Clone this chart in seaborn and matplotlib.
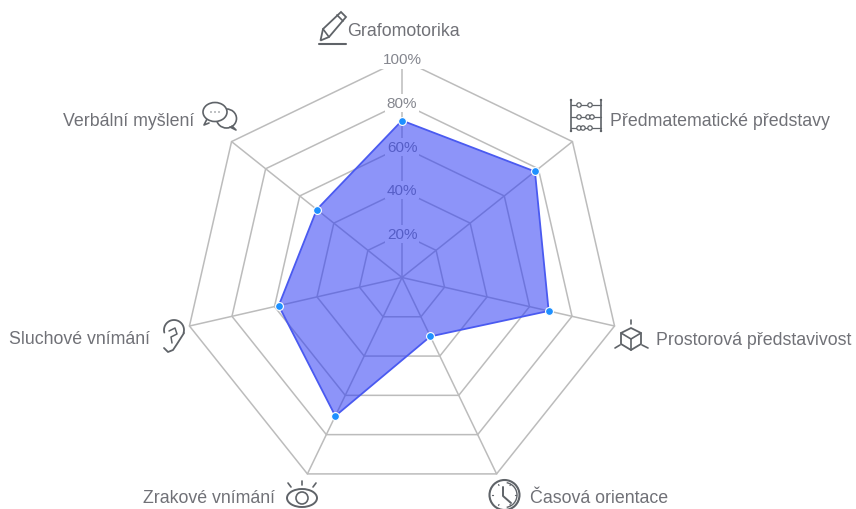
import numpy as np
import pandas as pd
import matplotlib.pyplot as plt
import seaborn as sns
from matplotlib.patches import Arc, Circle, Ellipse, Polygon

categories = ["Grafomotorika", "Předmatematické představy", "Prostorová představivost",
              "Časová orientace", "Zrakové vnímání", "Sluchové vnímání", "Verbální myšlení"]
values = [72, 78, 69, 30, 70.5, 58, 50]
grid_levels = [20, 40, 60, 80, 100]

GREY = "#707177"
ICON = "#5f6368"
GRID = "#bcbcbc"

sns.set_theme(style="white")
plt.rcParams["font.family"] = ["Liberation Sans", "DejaVu Sans"]

W, H = 856, 510
cx, cy, R = 402, 278.5, 218

fig = plt.figure(figsize=(W / 100, H / 100), dpi=100)
ax = fig.add_axes([(cx - R) / W, (H - cy - R) / H, 2 * R / W, 2 * R / H], projection="polar")
ax.set_theta_zero_location("N")
ax.set_theta_direction(-1)
ax.axis("off")

theta = np.linspace(0, 2 * np.pi, len(categories), endpoint=False)
closed = np.append(theta, theta[0])

# grid rings and spokes
for level in grid_levels:
    ax.plot(closed, [level] * len(closed), color=GRID, lw=1.1, zorder=1, clip_on=False)
for t in theta:
    ax.plot([t, t], [0, 100], color=GRID, lw=1.1, zorder=1, clip_on=False)

# labels sit under the area, with a white patch that breaks the grid
for level in grid_levels:
    ax.text(0, level, f"{level}%", ha="center", va="center", fontsize=11, color="#85878f", zorder=2,
            clip_on=False, bbox=dict(facecolor="white", edgecolor="none", pad=1.5))

df = pd.DataFrame({"theta": closed, "value": values + values[:1]})
ax.fill(df["theta"], df["value"], color="#2f3cf5", alpha=0.55, lw=0, zorder=3)
sns.lineplot(data=df, x="theta", y="value", sort=False, estimator=None, color="#4a5af0", lw=1.3,
             ax=ax, zorder=4, legend=False)
sns.scatterplot(data=df.iloc[:-1], x="theta", y="value", color="#1e90ff", s=32, edgecolor="white",
                linewidth=0.8, ax=ax, zorder=5, legend=False, clip_on=False)
ax.set_ylim(0, 100)
ax.set_xlabel("")
ax.set_ylabel("")

# overlay in pixel coordinates for the axis names and their icons
ov = fig.add_axes([0, 0, 1, 1], facecolor="none")
ov.set_xlim(0, W)
ov.set_ylim(H, 0)
ov.axis("off")

label_pos = [(347, 32, "left"), (610, 121, "left"), (656, 341, "left"), (530, 499, "left"),
             (275, 499, "right"), (150, 340, "right"), (194, 122, "right")]
for name, (x, y, ha) in zip(categories, label_pos):
    ov.text(x, y, name, ha=ha, va="center", fontsize=12.8, color=GREY)


def line(xs, ys, lw=1.2):
    ov.plot(xs, ys, color=ICON, lw=lw, solid_capstyle="round")


def ring(x, y, r, lw=1.2):
    ov.add_patch(Circle((x, y), r, fill=False, ec=ICON, lw=lw))


# pencil
ov.add_patch(Polygon([(320.5, 41.5), (323, 30), (341, 13), (346, 18), (329, 38)], fill=False, ec=ICON, lw=1.3))
line([337, 343], [16, 22])
line([323, 329], [30, 38])
line([319, 346], [44.5, 44.5], 1.5)

# abacus
line([571, 571], [101, 132])
line([601, 601], [101, 132])
for x in [571, 601]:
    for y in [101, 132]:
        ov.add_patch(Circle((x, y), 1.2, fc=ICON, ec="none"))
for y, xs in [(106, [579, 590]), (118, [579, 588, 592]), (129, [579, 583, 590])]:
    line([571, 601], [y, y], 0.9)
    for x in xs:
        ov.add_patch(Circle((x, y), 2.2, fc="white", ec=ICON, lw=0.9, zorder=5))

# cube
ov.add_patch(Polygon([(631, 329), (641, 334), (641, 345), (631, 351), (621, 345), (621, 334)],
                     fill=False, ec=ICON, lw=1.3))
line([621, 631, 641], [334, 340, 334])
line([631, 631], [340, 351])
line([631, 631], [321, 325])
line([615, 620], [349, 346])
line([642, 648], [346, 349])

# clock
ring(504.5, 496, 15, 1.5)
ov.add_patch(Arc((504.5, 496), 25, 25, theta1=-80, theta2=80, ec=ICON, lw=1.0))
line([503, 503, 511], [488, 497, 504], 1.4)
for a in np.arange(0, 2 * np.pi, np.pi / 3):
    line([504.5 + 11 * np.cos(a), 504.5 + 12 * np.cos(a)], [496 + 11 * np.sin(a), 496 + 12 * np.sin(a)], 0.9)

# eye
ov.add_patch(Ellipse((302, 499), 30, 18, fill=False, ec=ICON, lw=1.4))
ring(302, 499, 6)
for x0, y0, x1, y1 in [(291, 488, 288, 484), (302, 486, 302, 482), (313, 488, 316, 484)]:
    line([x0, x1], [y0, y1])

# ear
t = np.linspace(-3.4, 0.3, 40)
line(174 + 10 * np.cos(t), 331 + 10 * np.sin(t), 1.3)
line([184, 177, 173, 168, 164], [334, 345, 351, 353, 349], 1.3)
line([169, 175, 177, 171, 172], [332, 329, 335, 338, 344], 1.1)

# speech bubbles
ov.add_patch(Ellipse((226.5, 119.5), 20, 19, fill=False, ec=ICON, lw=1.2, zorder=3))
ov.add_patch(Ellipse((215, 113), 24, 19, fc="white", ec=ICON, lw=1.2, zorder=4))
line([207, 204, 209], [120, 126, 124])
line([232, 236, 230], [127, 131, 128])
for x in [211, 215, 219]:
    ov.add_patch(Circle((x, 113), 0.7, fc=ICON, ec="none", zorder=5))

fig.savefig("out.png", dpi=100, facecolor="white")
